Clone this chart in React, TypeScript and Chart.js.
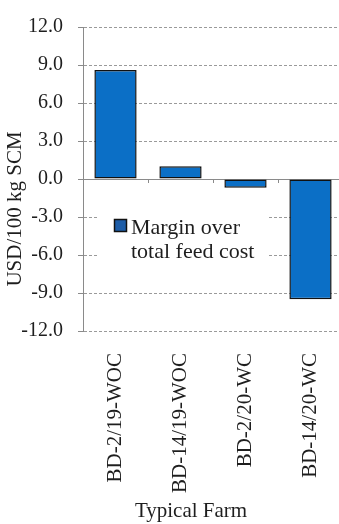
import React, { useEffect, useRef } from "react";
import { Chart, registerables } from "chart.js";

Chart.register(...registerables);

const farms = ["BD-2/19-WOC", "BD-14/19-WOC", "BD-2/20-WC", "BD-14/20-WC"];
const margin = [8.6, 1.0, -0.7, -9.5];
const seriesName = ["Margin over", "total feed cost"];
const yTitle = "USD/100 kg SCM";
const xTitle = "Typical Farm";

const SERIF = "'Liberation Serif', 'Times New Roman', serif";
const BAR_BLUE = "#0b6fc6";
const TEXT = "#1e1e1e";

// Zero line, boundary ticks, in-plot legend box and axis titles
const overlay = {
  id: "overlay",
  beforeDatasetsDraw(chart: any) {
    const { ctx, chartArea, scales } = chart;
    const y = scales.y;
    const y0 = y.getPixelForValue(0);
    ctx.save();
    // solid zero line
    ctx.strokeStyle = "#8a8a8a";
    ctx.lineWidth = 1;
    ctx.beginPath();
    ctx.moveTo(chartArea.left, y0 + 0.5);
    ctx.lineTo(chartArea.right, y0 + 0.5);
    ctx.stroke();
    // category boundary ticks on the zero line
    const step = (chartArea.right - chartArea.left) / farms.length;
    for (let i = 1; i < farms.length; i++) {
      const px = Math.round(chartArea.left + step * i) + 0.5;
      ctx.beginPath();
      ctx.moveTo(px, y0);
      ctx.lineTo(px, y0 + 4);
      ctx.stroke();
    }
    // legend box (white background hides grid lines behind it)
    ctx.fillStyle = "#ffffff";
    ctx.fillRect(98, 200, 170, 68);
    ctx.fillStyle = "#1d5da8";
    ctx.fillRect(114, 219, 13, 13);
    ctx.strokeStyle = "#111";
    ctx.lineWidth = 1.5;
    ctx.strokeRect(114.5, 219.5, 12, 12);
    ctx.fillStyle = TEXT;
    ctx.font = `22px ${SERIF}`;
    ctx.textAlign = "left";
    ctx.textBaseline = "alphabetic";
    ctx.fillText(seriesName[0], 131, 234);
    ctx.fillText(seriesName[1], 131, 258);
    ctx.restore();
  },
  afterDraw(chart: any) {
    const { ctx } = chart;
    ctx.save();
    ctx.fillStyle = TEXT;
    ctx.font = `21px ${SERIF}`;
    ctx.textAlign = "center";
    ctx.textBaseline = "middle";
    ctx.fillText(xTitle, 191, 511);
    ctx.translate(15, 209);
    ctx.rotate(-Math.PI / 2);
    ctx.fillText(yTitle, 0, 0);
    ctx.restore();
  },
};

export default function App() {
  const canvasRef = useRef<HTMLCanvasElement>(null);

  useEffect(() => {
    document.body.style.margin = "0";
    const canvas = canvasRef.current;
    if (!canvas) return;
    const chart = new Chart(canvas, {
      type: "bar",
      data: {
        labels: farms,
        datasets: [
          {
            label: seriesName.join(" "),
            data: margin,
            backgroundColor: BAR_BLUE,
            borderColor: "#111",
            borderWidth: 1.5,
            borderSkipped: false,
            barPercentage: 0.65,
            categoryPercentage: 1,
          },
        ],
      },
      options: {
        responsive: false,
        animation: false,
        devicePixelRatio: 1,
        layout: { padding: { top: 25, left: 0, right: 0, bottom: 0 } },
        plugins: {
          legend: { display: false },
          tooltip: { enabled: false },
        },
        scales: {
          x: {
            offset: true,
            grid: { display: false, drawTicks: false },
            border: { display: false },
            ticks: {
              minRotation: 90,
              maxRotation: 90,
              autoSkip: false,
              padding: 22,
              color: TEXT,
              font: { family: SERIF, size: 21 },
            },
            afterFit: (s: any) => {
              s.height = 193;
              s.paddingLeft = 0;
              s.paddingRight = 0;
            },
          },
          y: {
            min: -12,
            max: 12,
            ticks: {
              stepSize: 3,
              padding: 15,
              color: TEXT,
              font: { family: SERIF, size: 20 },
              callback: (v: any) => Number(v).toFixed(1),
            },
            grid: {
              color: "#9a9a9a",
              lineWidth: 1,
              tickLength: 5,
              tickColor: "#8a8a8a",
            },
            border: { display: true, color: "#8a8a8a", width: 1, dash: [3, 2] },
            afterFit: (s: any) => {
              s.width = 83;
            },
          },
        },
      },
      plugins: [overlay],
    });
    return () => chart.destroy();
  }, []);

  return (
    <div style={{ width: 339, height: 524, overflow: "hidden", background: "#fff" }}>
      <canvas ref={canvasRef} width={343} height={524} style={{ display: "block" }} />
    </div>
  );
}
